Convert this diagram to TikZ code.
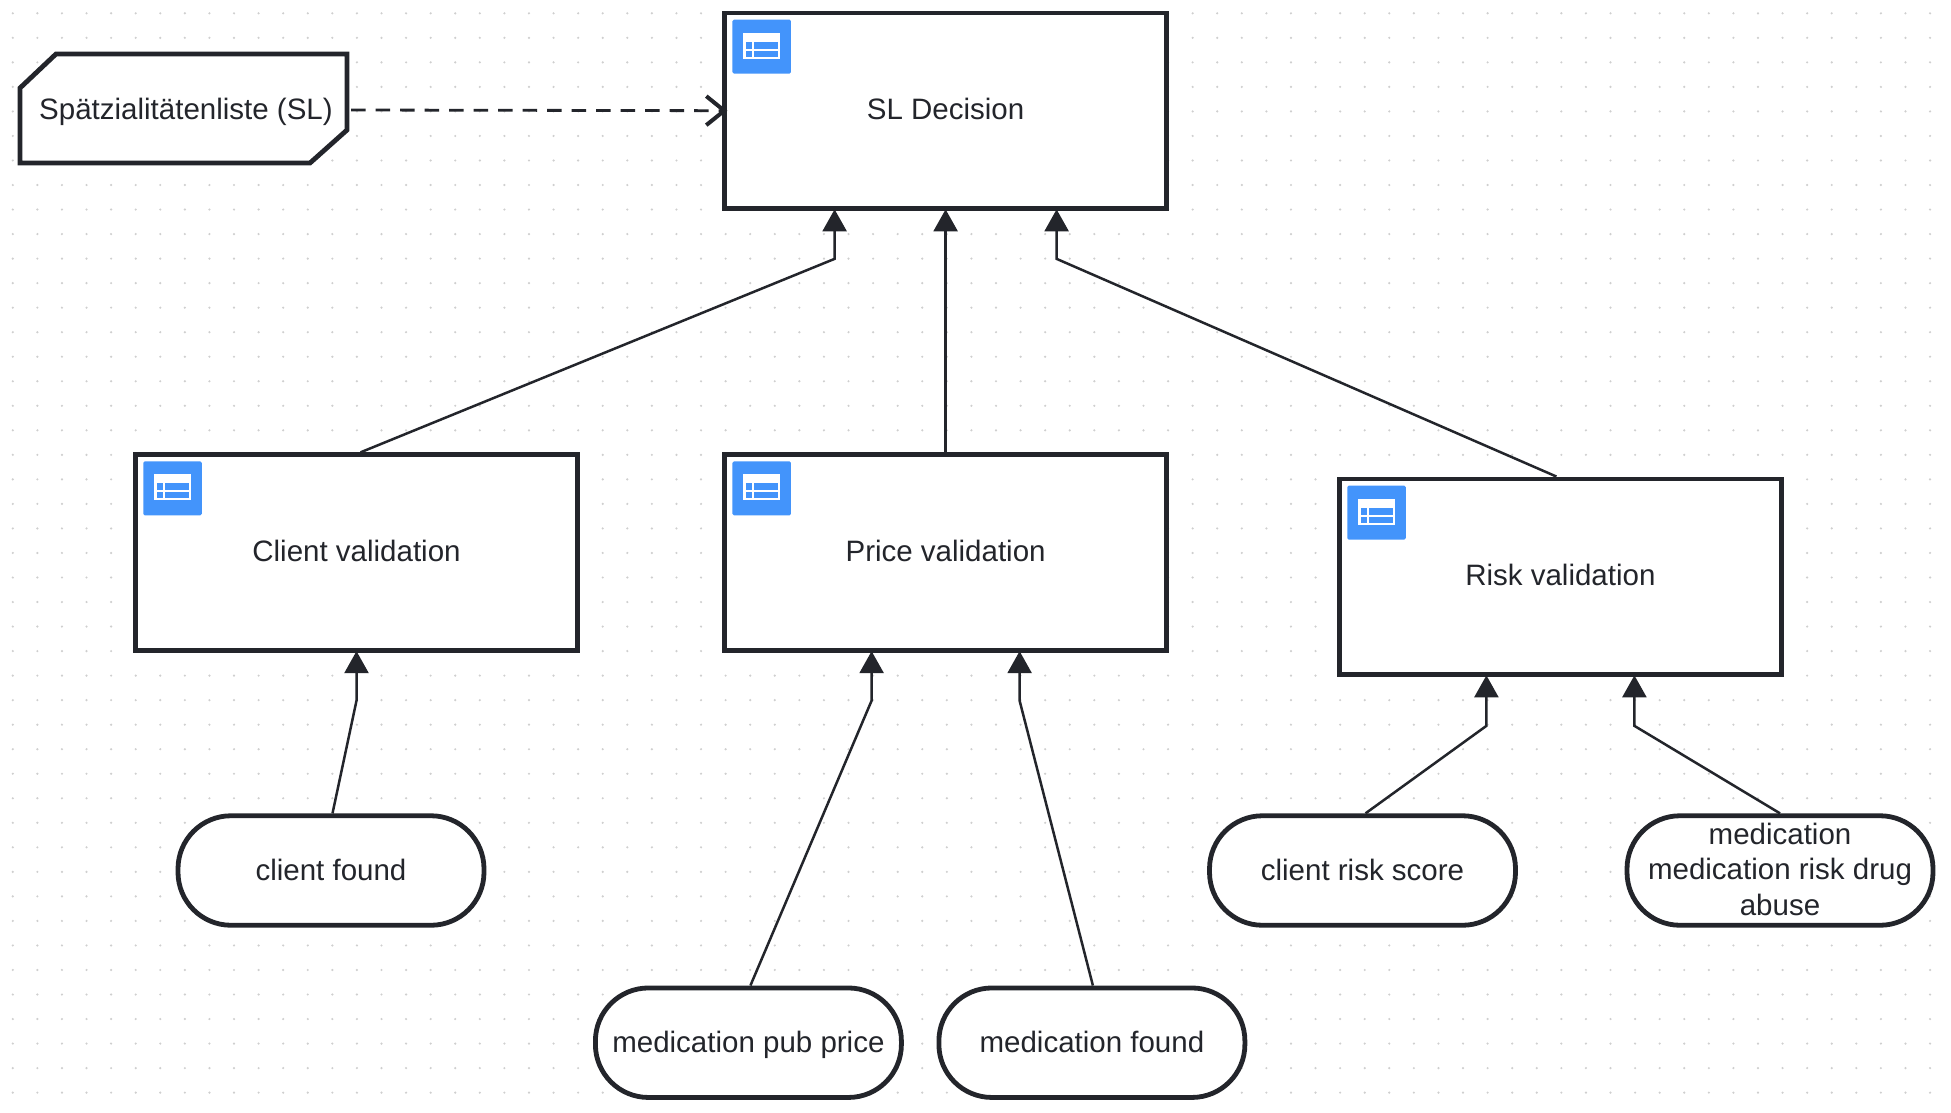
\documentclass[tikz,border=0pt]{standalone}
\usepackage{fontspec}
\setmainfont{Liberation Sans}
\usetikzlibrary{arrows.meta,calc}
\definecolor{ink}{HTML}{23252B}
\definecolor{iconblue}{HTML}{4394FB}
\definecolor{griddot}{HTML}{CFCFCF}
\tikzset{
  boxnode/.style={draw=ink,line width=4.8pt,fill=white,minimum width=441.5pt,minimum height=195.5pt,inner sep=0pt,text=ink,text height=25pt,text depth=7pt,font=\fontsize{29.5}{35.5}\selectfont},
  pill/.style={rounded corners=53pt,draw=ink,line width=4.8pt,fill=white,minimum width=306pt,minimum height=109.5pt,inner sep=0pt,text=ink,align=center,font=\fontsize{29.5}{35.5}\selectfont},
  oneline/.style={text height=27pt,text depth=7pt},
  taglabel/.style={inner sep=0pt,text=ink,text height=27pt,text depth=7pt,font=\fontsize{29.5}{35.5}\selectfont},
  tagshape/.style={draw=ink,line width=4.8pt,fill=white,miter limit=10},
  flow/.style={draw=ink,line width=2.5pt,shorten >=-1.5pt,-{Triangle[length=22pt,width=24pt]}},
  dep/.style={draw=ink,line width=2.8pt,dash pattern=on 14.5pt off 10pt,-{Straight Barb[length=18pt,width=29pt,line width=4pt]}},
  griddotstyle/.style={fill=griddot,draw=none},
  tableicon/.pic={
    \fill[iconblue,rounded corners=1.5pt] (10,9) rectangle (68.5,63);
    \fill[white] (21,22) rectangle (58,48);
    \fill[iconblue] (23.5,31) rectangle (30,38);
    \fill[iconblue] (32,31) rectangle (56,38);
    \fill[iconblue] (23.5,40) rectangle (30,46);
    \fill[iconblue] (32,40) rectangle (56,46);
  }
}
\begin{document}
\begin{tikzpicture}[x=1pt,y=-1pt]
\useasboundingbox (0,0) rectangle (1951,1112);
\fill[white] (0,0) rectangle (1951,1112);
\foreach \i in {0,...,79}{\foreach \j in {0,...,44}{
  \fill[griddotstyle] ({12.8+24.58*\i},{13.3+24.53*\j}) circle (1.2pt);
}}
% decisions
\node[boxnode] (sld) at (945.6,110.7) {SL Decision};
\node[boxnode] (cv) at (356.5,552.5) {Client validation};
\node[boxnode] (pv) at (945.6,552.5) {Price validation};
\node[boxnode] (rv) at (1560.4,576.7) {Risk validation};
\pic at (sld.north west) {tableicon};
\pic at (cv.north west) {tableicon};
\pic at (pv.north west) {tableicon};
\pic at (rv.north west) {tableicon};
% inputs
\node[pill,oneline] (cf) at (331,870.5) {client found};
\node[pill,oneline] (mp) at (748.4,1042.7) {medication pub price};
\node[pill,oneline] (mf) at (1091.9,1042.7) {medication found};
\node[pill,oneline] (cr) at (1362.5,870.5) {client risk score};
\node[pill] (mr) at (1780,870.5) {medication\\medication risk drug\\abuse\rule[-2.5pt]{0pt}{2.5pt}};
% knowledge source
\draw[tagshape] (20,88) -- (56,54) -- (347,54) -- (347,130) -- (310,163) -- (20,163) -- cycle;
\node[taglabel] (sl) at (186,109) {Spätzialitätenliste (SL)};
\coordinate (slout) at (351,110);
% connectors
\draw[dep] (slout) -- ($(sld.west)+(5,0)$);
\draw[flow] ($(cv.north)+(4,0)$) -- ($(sld.south)+(-111,48)$) -- ($(sld.south)+(-111,0)$);
\draw[flow] (pv.north) -- (sld.south);
\draw[flow] ($(rv.north)+(-4,0)$) -- ($(sld.south)+(111,48)$) -- ($(sld.south)+(111,0)$);
\draw[flow] ($(cf.north)+(1.5,0)$) -- ($(cv.south)+(0,48)$) -- (cv.south);
\draw[flow] ($(mp.north)+(2,0)$) -- ($(pv.south)+(-74,48)$) -- ($(pv.south)+(-74,0)$);
\draw[flow] ($(mf.north)+(1,0)$) -- ($(pv.south)+(74,48)$) -- ($(pv.south)+(74,0)$);
\draw[flow] ($(cr.north)+(3,0)$) -- ($(rv.south)+(-74,49)$) -- ($(rv.south)+(-74,0)$);
\draw[flow] (mr.north) -- ($(rv.south)+(74,49)$) -- ($(rv.south)+(74,0)$);
\end{tikzpicture}
\end{document}
